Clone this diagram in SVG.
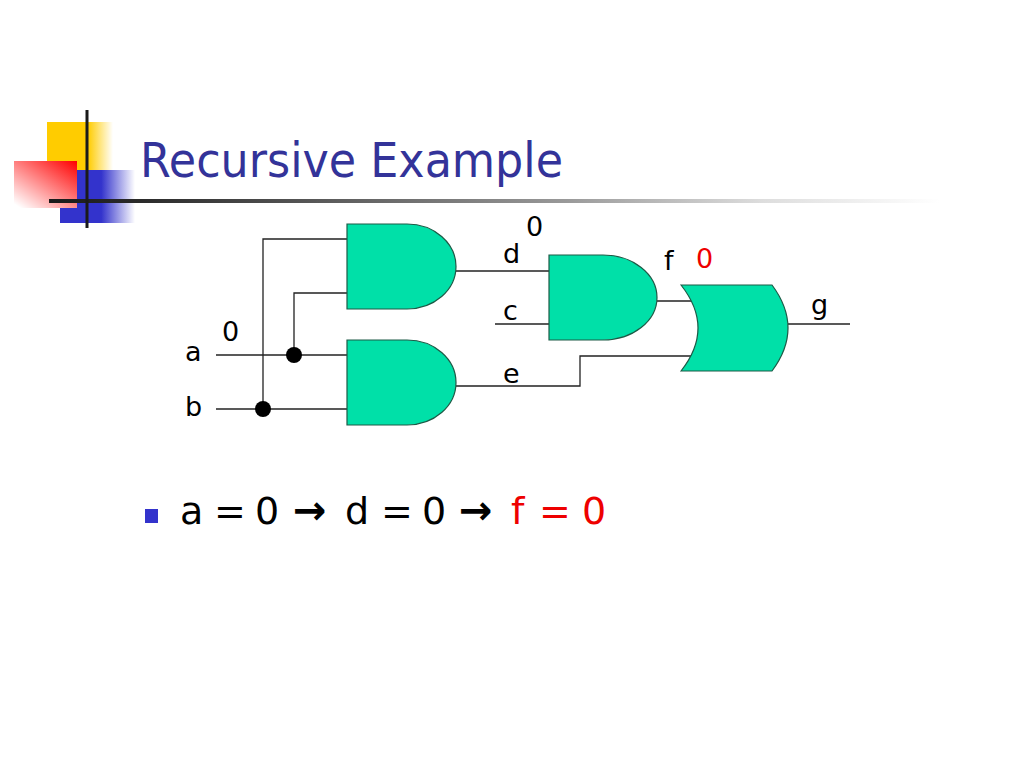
<svg xmlns="http://www.w3.org/2000/svg" width="1023" height="767" viewBox="0 0 1023 767">
<defs>
<linearGradient id="gYellow" x1="0" y1="0" x2="1" y2="0">
<stop offset="0" stop-color="#FFCC00"/><stop offset="0.62" stop-color="#FFCC00"/><stop offset="1" stop-color="#FFCC00" stop-opacity="0"/>
</linearGradient>
<linearGradient id="gBlue" x1="0" y1="0" x2="1" y2="0">
<stop offset="0" stop-color="#3333CC"/><stop offset="0.55" stop-color="#3333CC"/><stop offset="1" stop-color="#3333CC" stop-opacity="0"/>
</linearGradient>
<linearGradient id="gRed" x1="1" y1="0" x2="0.1" y2="1">
<stop offset="0" stop-color="#FF0000"/><stop offset="1" stop-color="#FFFFFF"/>
</linearGradient>
<linearGradient id="gLine" x1="0" y1="0" x2="1" y2="0">
<stop offset="0" stop-color="#1a1a1a"/><stop offset="0.1" stop-color="#2a2a2a"/><stop offset="0.58" stop-color="#999999"/><stop offset="0.8" stop-color="#dddddd"/><stop offset="1" stop-color="#ffffff"/>
</linearGradient>
<style>
.gate{fill:#00E0A8;stroke:#1d5a46;stroke-width:1.2}
.wire{fill:none;stroke:#222;stroke-width:1.3}
.lbl{font-family:"DejaVu Sans","Liberation Sans",sans-serif;font-size:27px;fill:#000}
.red{fill:#EE0000}
.dot{fill:#000}
.arr{font-weight:bold;font-size:40px}
</style>
</defs>
<rect width="1023" height="767" fill="#fff"/>
<g id="title-deco">
<rect x="47" y="122" width="66" height="48" fill="url(#gYellow)"/>
<rect x="60" y="170" width="75" height="53" fill="url(#gBlue)"/>
<rect x="14" y="161" width="63" height="47" fill="url(#gRed)"/>
<rect x="49" y="199" width="891" height="4" fill="url(#gLine)"/>
<rect x="85.5" y="110" width="3" height="118" fill="#1a1a1a"/>
</g>
<text x="140" y="177" font-family="DejaVu Sans, Liberation Sans, sans-serif" font-size="48" fill="#333399" textLength="423" lengthAdjust="spacingAndGlyphs">Recursive Example</text>
<g id="connectors">
<polyline class="wire" points="347,239 263,239 263,409"/>
<polyline class="wire" points="347,293 294,293 294,355"/>
<line class="wire" x1="216" y1="355" x2="347" y2="355"/>
<line class="wire" x1="216" y1="409" x2="347" y2="409"/>
<line class="wire" x1="456" y1="271" x2="549" y2="271"/>
<line class="wire" x1="495" y1="324" x2="549" y2="324"/>
<polyline class="wire" points="456,386 580,386 580,356 695,356"/>
<line class="wire" x1="657" y1="301" x2="696" y2="301"/>
<line class="wire" x1="788" y1="324" x2="850" y2="324"/>
<circle class="dot" cx="294" cy="355" r="8"/>
<circle class="dot" cx="263" cy="409" r="8"/>
</g>
<g id="and1"><path class="gate" d="M347,224 H407 A49,42.5 0 0 1 407,309 H347 Z"/></g>
<g id="and2"><path class="gate" d="M347,340 H407 A49,42.5 0 0 1 407,425 H347 Z"/></g>
<g id="and3"><path class="gate" d="M549,255 H603 A54,42.5 0 0 1 603,340 H549 Z"/></g>
<g id="or1"><path class="gate" d="M681,285 H772 Q804,328 772,371 H681 Q715,328 681,285 Z"/></g>
<g id="labels">
<text class="lbl" x="222" y="341">0</text>
<text class="lbl" x="185" y="361">a</text>
<text class="lbl" x="185" y="416">b</text>
<text class="lbl" x="503" y="263">d</text>
<text class="lbl" x="526" y="236">0</text>
<text class="lbl" x="503" y="320">c</text>
<text class="lbl" x="503" y="383">e</text>
<text class="lbl" x="664" y="270">f</text>
<text class="lbl red" x="696" y="268">0</text>
<text class="lbl" x="811" y="314">g</text>
</g>
<g id="bullet">
<rect x="145" y="509" width="13" height="14" fill="#3333CC"/>
<text y="524" font-family="DejaVu Sans, Liberation Sans, sans-serif" font-size="38" fill="#000"><tspan x="180">a</tspan><tspan x="214">=</tspan><tspan x="255">0</tspan><tspan class="arr" x="293">→</tspan><tspan x="345">d</tspan><tspan x="381">=</tspan><tspan x="422">0</tspan><tspan class="arr" x="459">→</tspan><tspan x="511" fill="#EE0000">f</tspan><tspan x="539" fill="#EE0000">=</tspan><tspan x="582" fill="#EE0000">0</tspan></text>
</g>
</svg>
